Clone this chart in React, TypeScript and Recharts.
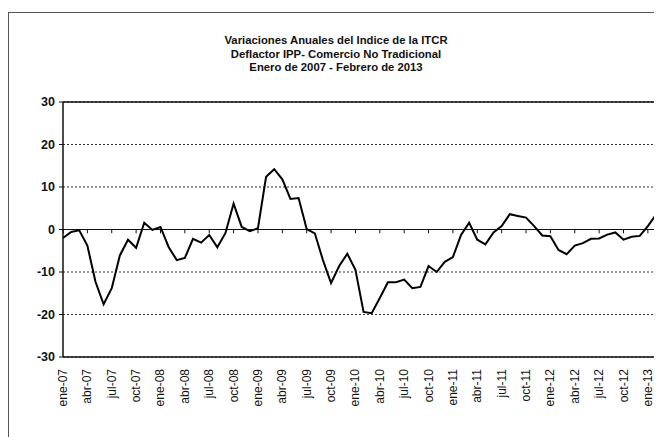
import { LineChart, Line, XAxis, YAxis, CartesianGrid, ReferenceLine } from 'recharts'

const monthNames = ['ene', 'feb', 'mar', 'abr', 'may', 'jun', 'jul', 'ago', 'sep', 'oct', 'nov', 'dic']
const years = ['07', '08', '09', '10', '11', '12', '13']

// Ene 2007 - Feb 2013, variación anual (%)
const variacion = [
  -2.0, -0.6, -0.2, -3.8, -12.3, -17.6, -13.8, -6.1, -2.4, -4.3, 1.6, -0.1,
  0.6, -4.1, -7.2, -6.7, -2.2, -3.1, -1.3, -4.2, -0.8, 6.1, 0.6, -0.4,
  0.3, 12.4, 14.2, 11.8, 7.2, 7.4, 0.1, -0.9, -7.2, -12.6, -8.6, -5.7,
  -9.5, -19.4, -19.7, -16.1, -12.4, -12.4, -11.8, -13.8, -13.5, -8.6, -10.0, -7.6,
  -6.5, -1.3, 1.6, -2.4, -3.5, -0.7, 0.8, 3.6, 3.2, 2.8, 0.8, -1.4,
  -1.6, -4.8, -5.8, -3.8, -3.2, -2.2, -2.1, -1.2, -0.7, -2.4, -1.7, -1.5,
  0.8, 3.5,
]

const yTicks = [-30, -20, -10, 0, 10, 20, 30]

const months = years.flatMap(y => monthNames.map(m => `${m}-${y}`)).slice(0, variacion.length)
const data = months.map((mes, i) => ({ mes, valor: variacion[i] }))
// marcas trimestrales sobre la línea de cero
const tickMonths = months.filter((_, i) => i % 3 === 0)

const font = "'Liberation Sans', Arial, sans-serif"
const narrow = "'Liberation Sans Narrow', 'Arial Narrow', 'Liberation Sans', Arial, sans-serif"

function MonthTick(props: any) {
  const { x, y, payload } = props
  return (
    <text
      x={x}
      y={y}
      transform={`rotate(-90, ${x}, ${y})`}
      textAnchor="end"
      dx={-4}
      dy={4}
      fontSize={12}
      fontFamily={narrow}
      fill="#111"
    >
      {payload.value}
    </text>
  )
}

export default function App() {
  return (
    <div style={{ position: 'relative', width: 654, height: 429 }}>
      <div
        style={{
          position: 'absolute',
          left: 0,
          top: 4,
          width: 660,
          height: 440,
          borderLeft: '1px solid #555',
          borderTop: '1px solid #555',
        }}
      />
      <div
        style={{
          position: 'absolute',
          left: 0,
          top: 26,
          width: 656,
          textAlign: 'center',
          fontFamily: narrow,
          fontWeight: 'bold',
          fontSize: 11.3,
          lineHeight: '13.5px',
          color: '#111',
        }}
      >
        <div>Variaciones Anuales del Indice de la ITCR</div>
        <div>Deflactor IPP- Comercio No Tradicional</div>
        <div>Enero de 2007 - Febrero de 2013</div>
      </div>
      <LineChart
        width={654}
        height={429}
        data={data}
        margin={{ top: 94, right: 6, bottom: 0, left: 0 }}
        style={{ position: 'absolute', left: 0, top: 0 }}
      >
        <CartesianGrid vertical={false} stroke="#333" strokeDasharray="2 2" />
        <XAxis
          dataKey="mes"
          interval={2}
          height={80}
          tick={<MonthTick />}
          tickLine={false}
          axisLine={{ stroke: '#111', strokeWidth: 1.5 }}
        />
        <YAxis
          domain={[-30, 30]}
          ticks={yTicks}
          width={55}
          tickSize={4}
          tickMargin={4}
          tick={{ fontSize: 12.5, fontWeight: 'bold', fontFamily: font, fill: '#111' }}
          axisLine={{ stroke: '#111', strokeWidth: 1.5 }}
          tickLine={{ stroke: '#111' }}
        />
        <ReferenceLine y={30} stroke="#111" strokeWidth={1.5} />
        <ReferenceLine y={0} stroke="#111" strokeWidth={1} />
        {tickMonths.map(m => (
          <ReferenceLine
            key={m}
            segment={[{ x: m, y: 0 }, { x: m, y: -0.9 }]}
            stroke="#111"
            strokeWidth={1}
          />
        ))}
        <ReferenceLine x={months[months.length - 1]} stroke="#111" strokeWidth={1.5} />
        <Line
          type="linear"
          dataKey="valor"
          stroke="#000"
          strokeWidth={2}
          dot={false}
          isAnimationActive={false}
        />
      </LineChart>
    </div>
  )
}
